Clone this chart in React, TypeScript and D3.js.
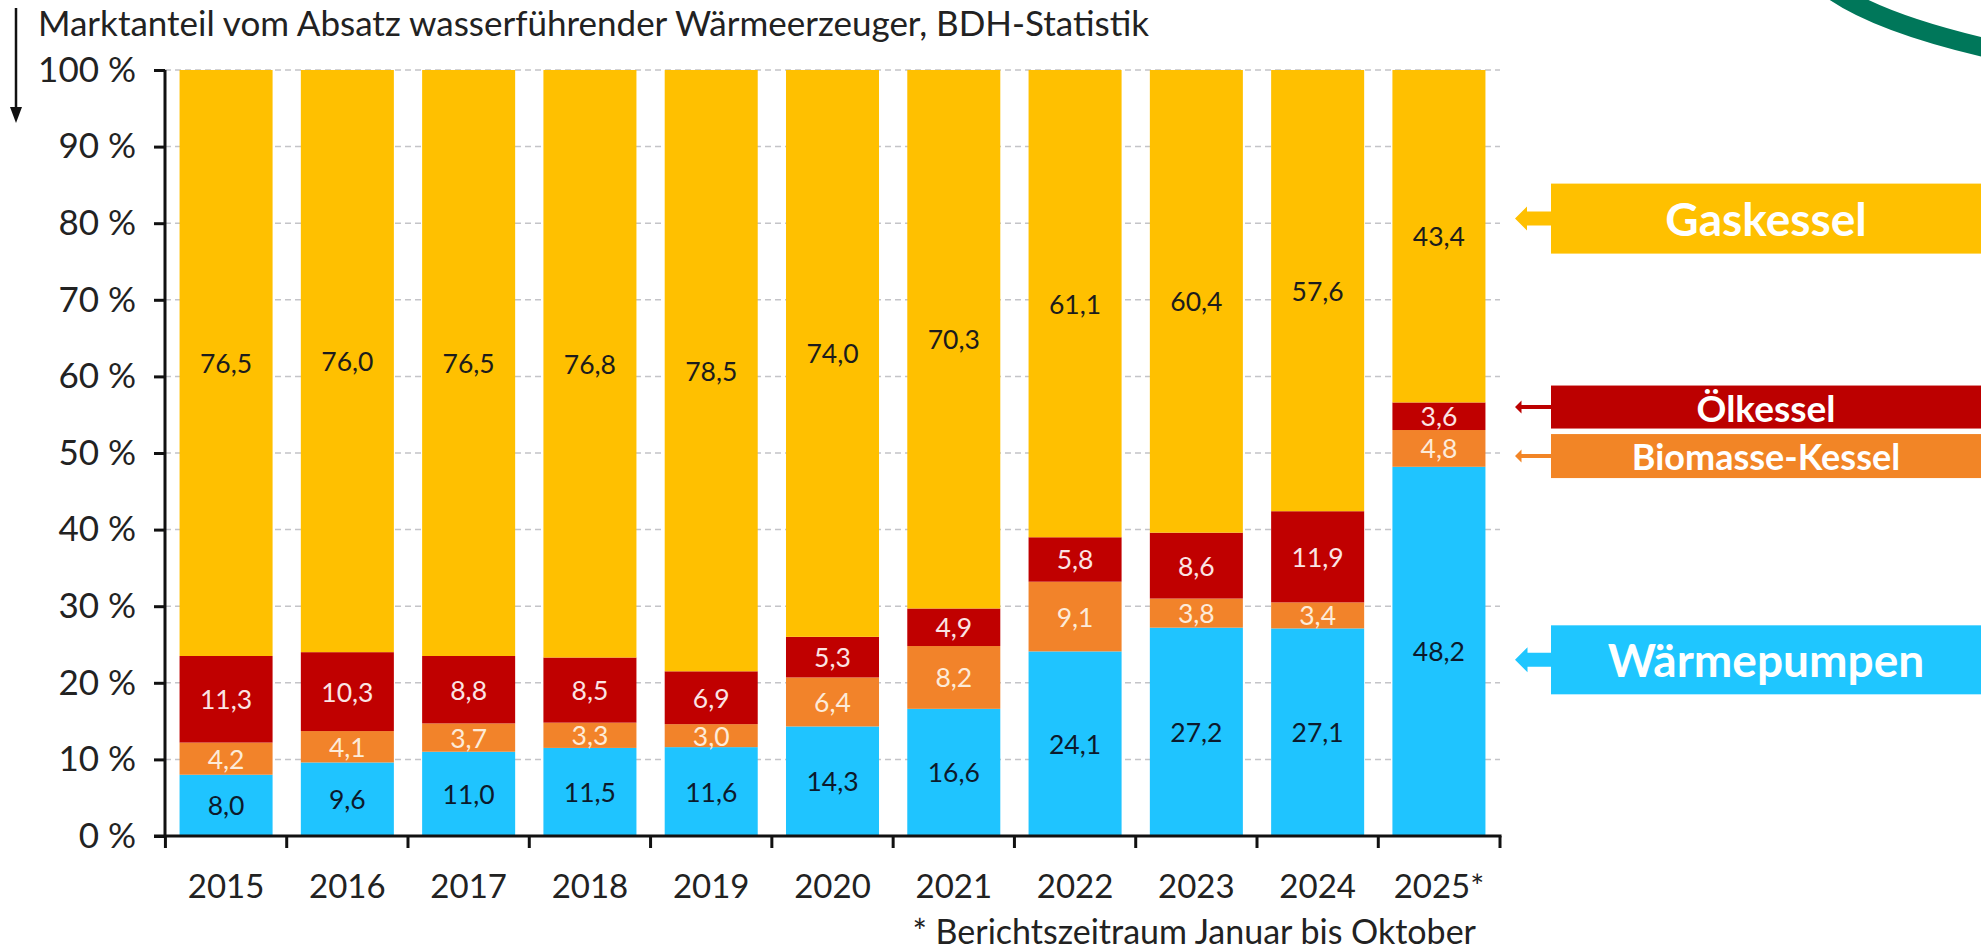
import React, { useEffect, useRef } from 'react';
import * as d3 from 'd3';

// Marktanteile in % (BDH-Statistik)
const years = ['2015', '2016', '2017', '2018', '2019', '2020', '2021', '2022', '2023', '2024', '2025*'];
const waermepumpen = [8.0, 9.6, 11.0, 11.5, 11.6, 14.3, 16.6, 24.1, 27.2, 27.1, 48.2];
const biomasse = [4.2, 4.1, 3.7, 3.3, 3.0, 6.4, 8.2, 9.1, 3.8, 3.4, 4.8];
const oelkessel = [11.3, 10.3, 8.8, 8.5, 6.9, 5.3, 4.9, 5.8, 8.6, 11.9, 3.6];
const gaskessel = [76.5, 76.0, 76.5, 76.8, 78.5, 74.0, 70.3, 61.1, 60.4, 57.6, 43.4];
const yTicks = [0, 10, 20, 30, 40, 50, 60, 70, 80, 90, 100];

const title = 'Marktanteil vom Absatz wasserführender Wärmeerzeuger, BDH-Statistik';
const footnote = '* Berichtszeitraum Januar bis Oktober';

const series = [
  { key: 'wp', name: 'Wärmepumpen', values: waermepumpen, fill: '#1FC4FF', text: '#0c1a2c' },
  { key: 'bio', name: 'Biomasse-Kessel', values: biomasse, fill: '#F2832A', text: '#fdebd9' },
  { key: 'oel', name: 'Ölkessel', values: oelkessel, fill: '#C00000', text: '#fbe4e4' },
  { key: 'gas', name: 'Gaskessel', values: gaskessel, fill: '#FFC000', text: '#1c1c1c' },
];

// legend boxes on the right (level = arrow height in %)
const legend = [
  { key: 'gas', label: 'Gaskessel', fill: '#FFC000', level: 80.6, h: 70, size: 46, shaft: 14, head: 24 },
  { key: 'oel', label: 'Ölkessel', fill: '#BC0000', level: 56.0, h: 43, size: 37, shaft: 4, head: 13 },
  { key: 'bio', label: 'Biomasse-Kessel', fill: '#F28526', level: 49.6, h: 44, size: 36, shaft: 4, head: 13 },
  { key: 'wp', label: 'Wärmepumpen', fill: '#1FC6FF', level: 23.0, h: 69, size: 46, shaft: 14, head: 25 },
];

const W = 1981, H = 951;
const FONT = 'Lato, "Noto Sans", sans-serif';

const App = () => {
  const ref = useRef(null);

  useEffect(() => {
    document.body.style.margin = '0';
    const svg = d3.select(ref.current);
    svg.selectAll('*').remove();

    const x0 = 165, x1 = 1500, yTop = 70, yBot = 836;

    const x = d3.scaleBand().domain(years).range([x0, x1]).paddingInner(0.233).paddingOuter(0.12);
    const y = d3.scaleLinear().domain([0, 100]).range([yBot, yTop]);

    const table = years.map((yr, i) => {
      const row = { year: yr };
      series.forEach(s => { row[s.key] = s.values[i]; });
      return row;
    });
    const stacked = d3.stack().keys(series.map(s => s.key))(table);

    // green arc top right
    svg.append('path')
      .attr('d', 'M1832,-10 Q1880,24 1995,50')
      .attr('fill', 'none')
      .attr('stroke', '#00775A')
      .attr('stroke-width', 19);

    // title + arrow
    svg.append('text')
      .attr('x', 38).attr('y', 36)
      .attr('font-family', FONT).attr('font-size', 35).attr('fill', '#222')
      .text(title);
    svg.append('line')
      .attr('x1', 16).attr('x2', 16).attr('y1', 8).attr('y2', 110)
      .attr('stroke', '#111').attr('stroke-width', 2.5);
    svg.append('path').attr('d', 'M10,107 L22,107 L16,123 Z').attr('fill', '#111');

    // gridlines
    svg.append('g').selectAll('line')
      .data(yTicks.filter(d => d > 0))
      .join('line')
      .attr('x1', x0).attr('x2', x1)
      .attr('y1', d => y(d)).attr('y2', d => y(d))
      .attr('stroke', '#c4c4c8').attr('stroke-width', 1.5).attr('stroke-dasharray', '6 4');

    // bars
    const layers = svg.append('g').selectAll('g')
      .data(stacked)
      .join('g')
      .attr('fill', (d, i) => series[i].fill);
    layers.selectAll('rect')
      .data(d => d)
      .join('rect')
      .attr('x', d => x(d.data.year))
      .attr('width', x.bandwidth())
      .attr('y', d => y(Math.min(100, d[1])))
      .attr('height', d => y(d[0]) - y(Math.min(100, d[1])));

    // value labels
    const fmt = v => v.toFixed(1).replace('.', ',');
    stacked.forEach((layer, i) => {
      svg.append('g').selectAll('text')
        .data(layer)
        .join('text')
        .attr('x', d => x(d.data.year) + x.bandwidth() / 2)
        .attr('y', d => y((d[0] + Math.min(100, d[1])) / 2))
        .attr('text-anchor', 'middle')
        .attr('dominant-baseline', 'central')
        .attr('font-family', FONT).attr('font-size', 26.5)
        .attr('fill', series[i].text)
        .text(d => fmt(d[1] - d[0]));
    });

    // y axis
    const yAxis = svg.append('g')
      .attr('transform', `translate(${x0},0)`)
      .call(d3.axisLeft(y).tickValues(yTicks).tickSize(11).tickPadding(18).tickFormat(d => `${d} %`));
    yAxis.select('.domain').attr('stroke', '#111').attr('stroke-width', 3)
      .attr('d', `M0,${yTop}V${yBot}`);
    yAxis.selectAll('.tick line').attr('stroke', '#111').attr('stroke-width', 3);
    yAxis.selectAll('.tick text')
      .attr('font-family', FONT).attr('font-size', 35).attr('fill', '#222');

    // x axis: line, separator ticks, labels
    const step = x.step();
    const gap = step - x.bandwidth();
    const seps = years.map(yr => x(yr) - gap / 2).concat([x1]);
    svg.append('line')
      .attr('x1', x0 - 11).attr('x2', x1 + 1.5).attr('y1', yBot).attr('y2', yBot)
      .attr('stroke', '#111').attr('stroke-width', 3);
    svg.append('g').selectAll('line')
      .data(seps)
      .join('line')
      .attr('x1', d => d).attr('x2', d => d)
      .attr('y1', yBot).attr('y2', yBot + 12)
      .attr('stroke', '#111').attr('stroke-width', 3);
    svg.append('g').selectAll('text')
      .data(years)
      .join('text')
      .attr('x', d => x(d) + x.bandwidth() / 2)
      .attr('y', 898)
      .attr('text-anchor', 'middle')
      .attr('font-family', FONT).attr('font-size', 33).attr('fill', '#222')
      .text(d => d);

    svg.append('text')
      .attr('x', 1476).attr('y', 944)
      .attr('text-anchor', 'end')
      .attr('font-family', FONT).attr('font-size', 34).attr('fill', '#222')
      .text(footnote);

    // legend boxes with arrows
    const bx = 1551, tipX = 1515;
    legend.forEach(l => {
      const cy = y(l.level);
      const g = svg.append('g');
      g.append('rect')
        .attr('x', bx).attr('y', cy - l.h / 2)
        .attr('width', W - bx).attr('height', l.h)
        .attr('fill', l.fill);
      const hl = l.head * 0.5;
      g.append('path')
        .attr('d', `M${tipX},${cy} L${tipX + hl},${cy - l.head / 2} L${tipX + hl},${cy - l.shaft / 2} L${bx},${cy - l.shaft / 2} L${bx},${cy + l.shaft / 2} L${tipX + hl},${cy + l.shaft / 2} L${tipX + hl},${cy + l.head / 2} Z`)
        .attr('fill', l.fill);
      g.append('text')
        .attr('x', 1766).attr('y', cy)
        .attr('text-anchor', 'middle')
        .attr('dominant-baseline', 'central')
        .attr('font-family', FONT).attr('font-weight', 700)
        .attr('font-size', l.size).attr('fill', '#fff')
        .text(l.label);
    });
  }, []);

  return <svg ref={ref} width={W} height={H} style={{ display: 'block' }}></svg>;
};

export default App;
